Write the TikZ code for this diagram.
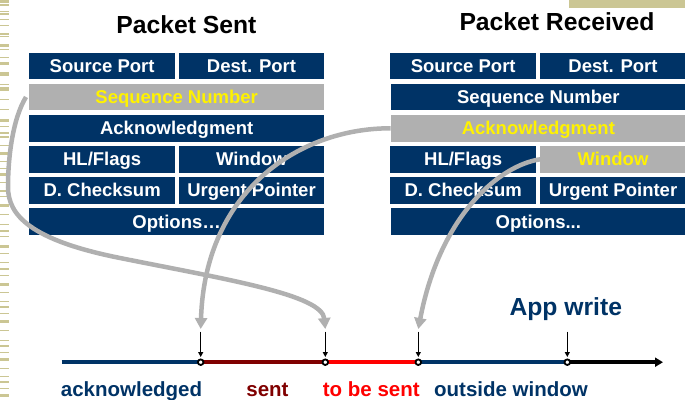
\documentclass[tikz,border=0pt]{standalone}
\usepackage{fontspec}
\setmainfont{Liberation Sans}
\usetikzlibrary{arrows.meta}
\definecolor{navy}{RGB}{0,51,102}
\definecolor{darkred}{RGB}{128,0,0}
\definecolor{khaki}{RGB}{203,198,148}
\definecolor{boxgray}{RGB}{176,176,176}
\definecolor{curvegray}{RGB}{176,176,176}
\begin{document}
\begin{tikzpicture}[x=1pt,y=-1pt,
  cell/.style={fill=navy, text=white, inner sep=0pt, outer sep=0pt, text height=13.3pt, text depth=0pt, minimum height=26.6pt, font=\fontsize{18.5}{20}\selectfont\bfseries},
  hcell/.style={cell, fill=boxgray, text=yellow},
  half/.style={minimum width=145.5pt},
  full/.style={minimum width=295.3pt},
  title/.style={anchor=base, inner sep=0pt, font=\fontsize{24.7}{26}\selectfont\bfseries},
  lbl/.style={anchor=base, inner sep=0pt, font=\fontsize{20.5}{22}\selectfont\bfseries},
  seg/.style={line width=4pt},
  dot/.style={circle, draw=black, fill=white, line width=1.8pt, inner sep=0pt, minimum size=5.6pt},
  tick/.style={line width=1.2pt, -{Triangle[length=5pt,width=5pt]}, shorten >=1.5pt},
  link/.style={draw=curvegray, line width=4.5pt, -{Triangle[length=11pt,width=12pt]}}
]
\useasboundingbox (0,0) rectangle (685,399);
\fill[white] (0,0) rectangle (685,399);

% decorative stripes
\foreach \y/\h in {0/3,4/1.5,11/1,13/2,19/1,25/1,33/1.5,36/1,44/3,49/1,57/1,62/3,72/4,84/1,87/4,99/1,109/1,119/3,126/1,132/2,136/1.5,145/1,152/3,161/1,168/1,173/3,182/1,190/2,196/1,204/3,214/1,224/1,230/2,236/1,245/3,253/1,262/1,268/2,275/1,283/3,292/1,301/1,306/2,313/1,320/3,330/1,340/1,345/2,352/1,358/3,368/1,376/1,381/2,388/1,394/3}
  \fill[khaki] (0,\y) rectangle (9.3,{\y+\h});
\fill[khaki] (569,0) rectangle (685,8.3);

% titles
\node[title] (tsent) at (186.4,33) {Packet Sent};
\node[title] (trecv) at (557,30.7) {Packet Received};

% left packet
\node[cell, half] (lsrc) at (102.15,66) {Source Port};
\node[cell, half] (ldst) at (251.5,66) {Dest. Port};
\node[hcell, full] (lseq) at (176.65,97) {Sequence Number};
\node[cell, full] (lack) at (176.65,128.3) {Acknowledgment};
\node[cell, half] (lhl) at (102.15,159.3) {HL/Flags};
\node[cell, half] (lwin) at (251.5,159.3) {Window};
\node[cell, half] (lchk) at (102.15,190.3) {D. Checksum};
\node[cell, half] (lurg) at (251.5,190.3) {Urgent Pointer};
\node[cell, full] (lopt) at (176.65,221.7) {Options…};

% right packet
\node[cell, half] (rsrc) at (463.2,66) {Source Port};
\node[cell, half] (rdst) at (613,66) {Dest. Port};
\node[cell, full] (rseq) at (538.35,97) {Sequence Number};
\node[hcell, full] (rack) at (538.35,128.3) {Acknowledgment};
\node[cell, half] (rhl) at (463.2,159.3) {HL/Flags};
\node[hcell, half] (rwin) at (613,159.3) {Window};
\node[cell, half] (rchk) at (463.2,190.3) {D. Checksum};
\node[cell, half] (rurg) at (613,190.3) {Urgent Pointer};
\node[cell, full] (ropt) at (538.35,221.7) {Options...};

% timeline
\coordinate (t0) at (61.7,362.2);
\coordinate (t1) at (200.7,362.2);
\coordinate (t2) at (325.3,362.2);
\coordinate (t3) at (418.3,362.2);
\coordinate (t4) at (567.3,362.2);
\coordinate (tend) at (663,362.2);
\draw[seg, navy] (t0) -- (t1);
\draw[seg, darkred] (t1) -- (t2);
\draw[seg, red] (t2) -- (t3);
\draw[seg, navy] (t3) -- (t4);
\draw[seg, black, -{Triangle[length=8pt,width=9pt]}] (t4) -- (tend);
\node[dot] (d1) at (t1) {};
\node[dot] (d2) at (t2) {};
\node[dot] (d3) at (t3) {};
\node[dot] (d4) at (t4) {};

% small pointers
\coordinate (a1) at (200.7,331.5);
\coordinate (a2) at (325.3,331.5);
\coordinate (a3) at (418.3,331.5);
\coordinate (a4) at (567.3,331.5);
\draw[tick] (a1) -- (d1);
\draw[tick] (a2) -- (d2);
\draw[tick] (a3) -- (d3);
\draw[tick] (a4) -- (d4);

% labels
\node[title, text=navy] (app) at (565.8,315.3) {App write};
\node[lbl, text=navy] (lab1) at (131.5,396) {acknowledged};
\node[lbl, text=darkred] (lab2) at (267.5,396) {sent};
\node[lbl, text=red] (lab3) at (371.3,396) {to be sent};
\node[lbl, text=navy] (lab4) at (511,396) {outside window};

% mapping curves
\coordinate (g1) at (200.7,329);
\coordinate (g2) at (325.3,329);
\coordinate (g3) at (418.3,329);
\draw[link] ([xshift=-3pt]lseq.west) .. controls (12,120) and (8,160) .. (8,187)
  .. controls (8,215) and (30,240) .. (120,258)
  .. controls (230,280) and (322,295) .. (g2);
\draw[link] (rack.west) .. controls (300,128) and (205,190) .. (g1);
\draw[link] (rwin.west) .. controls (500,165) and (440,215) .. (g3);
\end{tikzpicture}
\end{document}
